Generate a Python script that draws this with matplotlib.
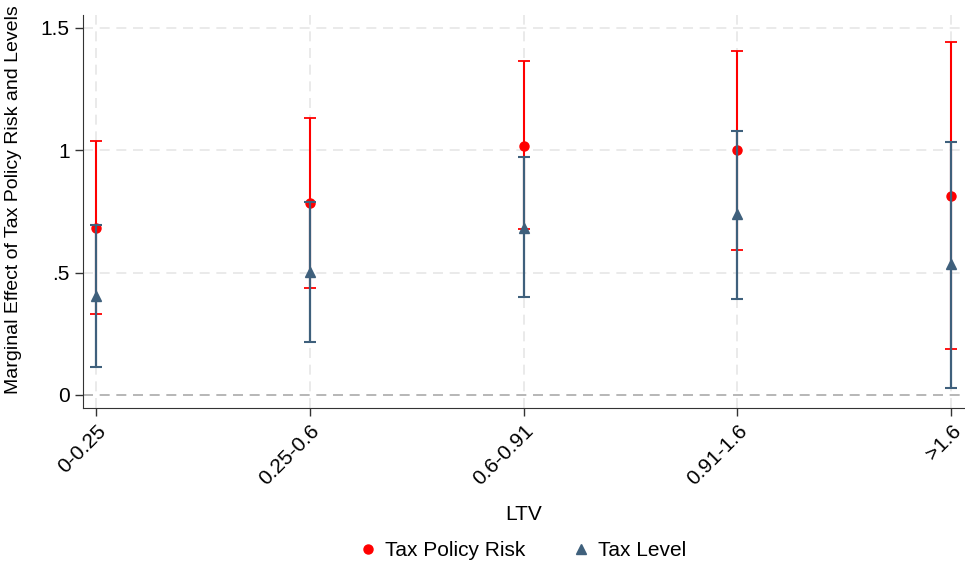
import matplotlib.pyplot as plt
from matplotlib.lines import Line2D
import numpy as np

plt.rcParams['font.family'] = ['Liberation Sans', 'DejaVu Sans']

categories = ['0-0.25', '0.25-0.6', '0.6-0.91', '0.91-1.6', '>1.6']

# Tax Policy Risk: estimate, lower and upper CI
risk = [0.682, 0.784, 1.018, 1.000, 0.812]
risk_lo = [0.331, 0.437, 0.677, 0.592, 0.188]
risk_hi = [1.037, 1.131, 1.363, 1.404, 1.441]

# Tax Level
level = [0.404, 0.502, 0.684, 0.739, 0.535]
level_lo = [0.114, 0.216, 0.402, 0.390, 0.029]
level_hi = [0.694, 0.788, 0.971, 1.080, 1.033]

red = '#FF0000'
navy = '#3F607C'

fig = plt.figure(figsize=(9.65, 5.65), dpi=100)
ax = fig.add_axes([0.086, 0.278, 0.914, 0.695])

x = np.arange(len(categories))

# grid
for yy in [0.5, 1.0, 1.5]:
    ax.axhline(yy, color='#E6E6E6', lw=1.2, ls=(0, (6, 4)), zorder=0)
for xx in x:
    ax.axvline(xx, color='#E6E6E6', lw=1.2, ls=(0, (6, 4)), zorder=0)
ax.axhline(0, color='#AAAAAA', lw=1.2, ls=(0, (6, 4)), zorder=0)

r = np.array(risk)
ax.errorbar(x, r, yerr=[r - np.array(risk_lo), np.array(risk_hi) - r],
            fmt='o', color=red, ms=6.5, elinewidth=1.5, capsize=4, capthick=1.3,
            zorder=3)
l = np.array(level)
ax.errorbar(x, l, yerr=[l - np.array(level_lo), np.array(level_hi) - l],
            fmt='^', color=navy, ms=7.5, elinewidth=1.6, capsize=4, capthick=1.5,
            zorder=4)

ax.set_xlim(-0.061, 4.065)
ax.set_ylim(-0.053, 1.551)
ax.set_yticks([0, 0.5, 1.0, 1.5])
ax.set_yticklabels(['0', '.5', '1', '1.5'], fontsize=15)
ax.set_xticks(x)
ax.set_xticklabels(categories, rotation=45, ha='right', rotation_mode='anchor', fontsize=15)
ax.tick_params(axis='both', length=6, width=1, color='#333333')

for s in ['top', 'right']:
    ax.spines[s].set_visible(False)
for s in ['left', 'bottom']:
    ax.spines[s].set_color('#333333')

ax.set_xlabel('LTV', fontsize=15, labelpad=12)
fig.text(0.0135, 0.646, 'Marginal Effect of Tax Policy Risk and Levels', fontsize=14,
         rotation=90, ha='center', va='center')

handles = [Line2D([], [], ls='none', marker='o', color=red, ms=6.5),
           Line2D([], [], ls='none', marker='^', color=navy, ms=7.5)]
fig.legend(handles, ['Tax Policy Risk', 'Tax Level'], loc='center',
           bbox_to_anchor=(0.541, 0.026), ncol=2, frameon=False, fontsize=15,
           handlelength=1.0, handletextpad=0.3, columnspacing=2.2)

fig.savefig('out.png', dpi=100, facecolor='white')
